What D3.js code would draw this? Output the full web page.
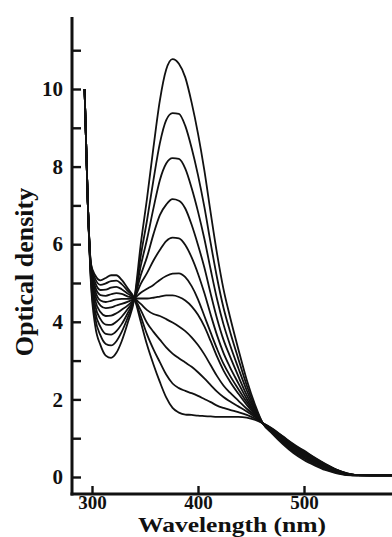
<!DOCTYPE html>
<html>
<head>
<meta charset="utf-8">
<script src="https://cdn.jsdelivr.net/npm/d3@7"></script>
<style>
  html, body { margin: 0; padding: 0; background: #fff; }
  svg { display: block; }
  .tick text { font-family: "Liberation Serif", "DejaVu Serif", serif; font-weight: bold; }
</style>
</head>
<body>
<div id="chart"></div>
<script>
const wavelength = [293, 296, 299, 303, 308, 313, 318, 323, 328, 334,
  340, 346, 352, 358, 364, 370, 376, 382, 388, 394,
  400, 406, 412, 418, 424, 430, 438, 446, 454, 461,
  470, 480, 490, 500, 510, 520, 530, 540, 550, 583];

// optical density, one array per spectrum (lowest 380 nm band first)
const od00 = [10.0, 7.1, 5.5, 5.2, 5.07, 5.13, 5.2, 5.2, 5.08, 4.85, 4.6, 4.0, 3.4, 2.9, 2.45, 2.05, 1.78, 1.66, 1.61, 1.6, 1.58, 1.57, 1.56, 1.55, 1.55, 1.55, 1.55, 1.53, 1.47, 1.39, 1.25, 1.05, 0.85, 0.68, 0.5, 0.34, 0.2, 0.1, 0.05, 0.04];
const od01 = [10.0, 7.1, 5.47, 5.11, 4.95, 4.99, 5.05, 5.06, 4.97, 4.79, 4.6, 4.14, 3.67, 3.29, 2.96, 2.64, 2.41, 2.29, 2.22, 2.16, 2.09, 2.01, 1.93, 1.84, 1.78, 1.73, 1.67, 1.6, 1.5, 1.39, 1.24, 1.04, 0.83, 0.66, 0.49, 0.33, 0.19, 0.1, 0.05, 0.04];
const od02 = [10.0, 7.1, 5.43, 5.01, 4.82, 4.83, 4.88, 4.9, 4.84, 4.72, 4.6, 4.3, 3.97, 3.74, 3.54, 3.34, 3.18, 3.06, 2.95, 2.84, 2.7, 2.54, 2.37, 2.2, 2.06, 1.95, 1.82, 1.69, 1.54, 1.39, 1.23, 1.02, 0.82, 0.64, 0.47, 0.32, 0.19, 0.09, 0.05, 0.04];
const od03 = [10.0, 7.1, 5.39, 4.9, 4.69, 4.67, 4.71, 4.74, 4.72, 4.65, 4.6, 4.46, 4.3, 4.2, 4.15, 4.07, 3.98, 3.88, 3.76, 3.6, 3.4, 3.16, 2.88, 2.6, 2.36, 2.18, 1.97, 1.76, 1.57, 1.39, 1.22, 1.0, 0.8, 0.63, 0.45, 0.3, 0.18, 0.09, 0.05, 0.04];
const od04 = [10.0, 7.1, 5.35, 4.8, 4.55, 4.51, 4.54, 4.58, 4.59, 4.59, 4.6, 4.6, 4.6, 4.62, 4.65, 4.68, 4.68, 4.64, 4.55, 4.4, 4.18, 3.88, 3.5, 3.1, 2.75, 2.47, 2.15, 1.86, 1.6, 1.39, 1.21, 0.99, 0.78, 0.61, 0.44, 0.29, 0.17, 0.08, 0.05, 0.04];
const od05 = [10.0, 7.1, 5.31, 4.69, 4.42, 4.35, 4.37, 4.42, 4.46, 4.52, 4.6, 4.75, 4.85, 4.95, 5.08, 5.18, 5.24, 5.25, 5.15, 4.92, 4.58, 4.15, 3.72, 3.3, 2.92, 2.62, 2.27, 1.93, 1.63, 1.39, 1.2, 0.97, 0.76, 0.59, 0.42, 0.28, 0.16, 0.08, 0.05, 0.04];
const od06 = [10.0, 7.1, 5.26, 4.56, 4.25, 4.15, 4.16, 4.22, 4.31, 4.43, 4.6, 4.98, 5.26, 5.58, 5.85, 6.08, 6.17, 6.15, 5.98, 5.66, 5.24, 4.74, 4.18, 3.65, 3.2, 2.84, 2.42, 2.01, 1.66, 1.39, 1.19, 0.95, 0.74, 0.56, 0.4, 0.26, 0.15, 0.08, 0.05, 0.04];
const od07 = [10.0, 7.1, 5.2, 4.42, 4.07, 3.93, 3.92, 4.0, 4.13, 4.34, 4.6, 5.2, 5.68, 6.26, 6.75, 7.02, 7.16, 7.12, 6.92, 6.5, 5.98, 5.4, 4.72, 4.08, 3.54, 3.12, 2.6, 2.11, 1.7, 1.39, 1.17, 0.93, 0.71, 0.54, 0.38, 0.24, 0.14, 0.07, 0.04, 0.04];
const od08 = [10.0, 7.1, 5.14, 4.26, 3.87, 3.69, 3.67, 3.76, 3.94, 4.24, 4.6, 5.44, 6.14, 6.93, 7.65, 8.08, 8.22, 8.2, 7.95, 7.45, 6.84, 6.14, 5.34, 4.58, 3.94, 3.42, 2.81, 2.23, 1.74, 1.39, 1.16, 0.91, 0.68, 0.51, 0.36, 0.23, 0.13, 0.06, 0.04, 0.04];
const od09 = [10.0, 7.1, 5.08, 4.1, 3.65, 3.43, 3.39, 3.5, 3.74, 4.13, 4.6, 5.7, 6.63, 7.66, 8.6, 9.2, 9.38, 9.36, 9.05, 8.48, 7.78, 6.96, 6.02, 5.13, 4.37, 3.77, 3.05, 2.36, 1.79, 1.39, 1.14, 0.88, 0.65, 0.48, 0.33, 0.2, 0.12, 0.06, 0.04, 0.04];
const od10 = [10.0, 7.1, 5.0, 3.9, 3.4, 3.13, 3.07, 3.2, 3.5, 4.0, 4.6, 6.0, 7.2, 8.5, 9.7, 10.5, 10.77, 10.65, 10.3, 9.65, 8.85, 7.9, 6.8, 5.75, 4.85, 4.15, 3.3, 2.5, 1.85, 1.39, 1.12, 0.85, 0.62, 0.44, 0.3, 0.18, 0.1, 0.05, 0.04, 0.04];

const spectra = [od00, od01, od02, od03, od04, od05, od06, od07, od08, od09, od10];

const xTicks = [300, 400, 500];
const yTicks = [0, 1, 2, 3, 4, 5, 6, 7, 8, 9, 10, 11];
const yLabels = [0, 2, 4, 6, 8, 10];

const xTitle = 'Wavelength (nm)';
const yTitle = 'Optical density';

const width = 392;
const height = 537;
const serif = '"Liberation Serif", "DejaVu Serif", serif';

const svg = d3.select('#chart')
  .append('svg')
    .attr('width', width)
    .attr('height', height);

svg.append('rect')
  .attr('width', width)
  .attr('height', height)
  .attr('fill', '#fff');

const x = d3.scaleLinear()
  .domain([300, 500])
  .range([92, 304]);

const y = d3.scaleLinear()
  .domain([0, 10])
  .range([477, 89]);

const axisX = 72;       // pixel position of the y axis line
const axisY = 494;      // pixel position of the x axis line
const axisTop = 17;

// spectra
const line = d3.line()
  .x((d, i) => x(wavelength[i]))
  .y(d => y(d))
  .curve(d3.curveMonotoneX);

svg.append('g')
  .attr('id', 'spectra')
  .selectAll('path')
  .data(spectra)
  .enter()
  .append('path')
    .attr('d', line)
    .attr('fill', 'none')
    .attr('stroke', '#111')
    .attr('stroke-width', 1.8)
    .attr('stroke-linejoin', 'round');

// y axis
const yAxis = d3.axisLeft(y)
  .tickValues(yTicks)
  .tickSize(-9)
  .tickPadding(9)
  .tickFormat(d => yLabels.includes(d) ? d : '');

const yAxisG = svg.append('g')
  .attr('transform', 'translate(' + axisX + ',0)')
  .call(yAxis);

yAxisG.select('.domain').remove();
yAxisG.selectAll('.tick line').attr('stroke', '#111').attr('stroke-width', 2.4);
yAxisG.selectAll('.tick text')
  .attr('fill', '#111')
  .style('font-size', '21px');

// x axis
const xAxis = d3.axisBottom(x)
  .tickValues(xTicks)
  .tickSize(-8)
  .tickPadding(1);

const xAxisG = svg.append('g')
  .attr('transform', 'translate(0,' + axisY + ')')
  .call(xAxis);

xAxisG.select('.domain').remove();
xAxisG.selectAll('.tick line').attr('stroke', '#111').attr('stroke-width', 2.4);
xAxisG.selectAll('.tick text')
  .attr('fill', '#111')
  .style('font-size', '19px');

// axis lines
svg.append('line')
  .attr('x1', axisX).attr('x2', axisX)
  .attr('y1', axisTop).attr('y2', axisY + 1.5)
  .attr('stroke', '#111')
  .attr('stroke-width', 3);

svg.append('line')
  .attr('x1', axisX - 1.5).attr('x2', width)
  .attr('y1', axisY).attr('y2', axisY)
  .attr('stroke', '#111')
  .attr('stroke-width', 3);

// titles
svg.append('text')
  .attr('x', 232)
  .attr('y', 532.2)
  .attr('text-anchor', 'middle')
  .attr('font-family', serif)
  .attr('font-weight', 'bold')
  .attr('font-size', 22)
  .attr('textLength', 188)
  .attr('lengthAdjust', 'spacingAndGlyphs')
  .attr('fill', '#111')
  .text(xTitle);

svg.append('text')
  .attr('transform', 'translate(33,272) rotate(-90)')
  .attr('text-anchor', 'middle')
  .attr('font-family', serif)
  .attr('font-weight', 'bold')
  .attr('font-size', 26)
  .attr('fill', '#111')
  .text(yTitle);
</script>
</body>
</html>
